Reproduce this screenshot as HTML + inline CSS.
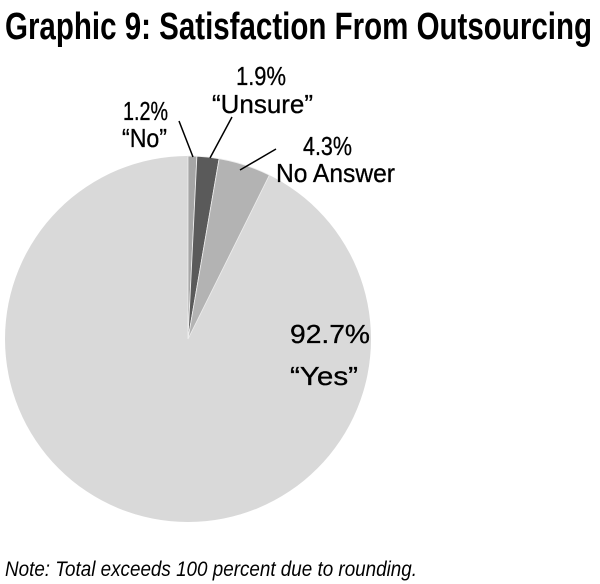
<!DOCTYPE html>
<html><head><meta charset="utf-8"><style>html,body{margin:0;padding:0;background:#fff;width:600px;height:584px;overflow:hidden}</style></head>
<body>
<svg width="600" height="584" viewBox="0 0 600 584" xmlns="http://www.w3.org/2000/svg">
<text x="5" y="39" font-family="Liberation Sans Narrow, Liberation Sans, sans-serif" font-weight="bold" font-size="38" textLength="587" lengthAdjust="spacingAndGlyphs" fill="#000">Graphic 9: Satisfaction From Outsourcing</text>
<circle cx="188" cy="339" r="183" fill="#d9d9d9"/>
<path d="M188,339 L188,156 A183,183 0 0 1 196.9,156.2 Z" fill="#a6a6a6" stroke="#eee" stroke-width="0.8"/>
<path d="M188,339 L196.9,156.2 A183,183 0 0 1 219.1,158.7 Z" fill="#5a5a5a" stroke="#eee" stroke-width="0.8"/>
<path d="M188,339 L219.1,158.7 A183,183 0 0 1 269.4,175.1 Z" fill="#b3b3b3" stroke="#eee" stroke-width="0.8"/>
<g stroke="#000" stroke-width="1.5">
<line x1="179" y1="121" x2="193" y2="157"/>
<line x1="232" y1="117" x2="210" y2="158"/>
<line x1="276" y1="149" x2="240" y2="170"/>
</g>
<g font-family="Liberation Sans, sans-serif" font-size="26" fill="#000" stroke="#000" stroke-width="0.3">
<text x="123" y="120" textLength="45" lengthAdjust="spacingAndGlyphs">1.2%</text>
<text x="122" y="147" textLength="45" lengthAdjust="spacingAndGlyphs">“No”</text>
<text x="236" y="85" textLength="50" lengthAdjust="spacingAndGlyphs">1.9%</text>
<text x="212" y="113" textLength="101" lengthAdjust="spacingAndGlyphs">“Unsure”</text>
<text x="303" y="155" textLength="49" lengthAdjust="spacingAndGlyphs">4.3%</text>
<text x="276" y="182" textLength="119" lengthAdjust="spacingAndGlyphs">No Answer</text>
<text x="290" y="343" textLength="80" lengthAdjust="spacingAndGlyphs">92.7%</text>
<text x="290" y="385" textLength="68" lengthAdjust="spacingAndGlyphs">“Yes”</text>
</g>
<text x="5" y="576" font-family="Liberation Sans Narrow, Liberation Sans, sans-serif" font-style="italic" font-size="21" textLength="412" lengthAdjust="spacingAndGlyphs" fill="#000">Note: Total exceeds 100 percent due to rounding.</text>
</svg>
</body></html>
